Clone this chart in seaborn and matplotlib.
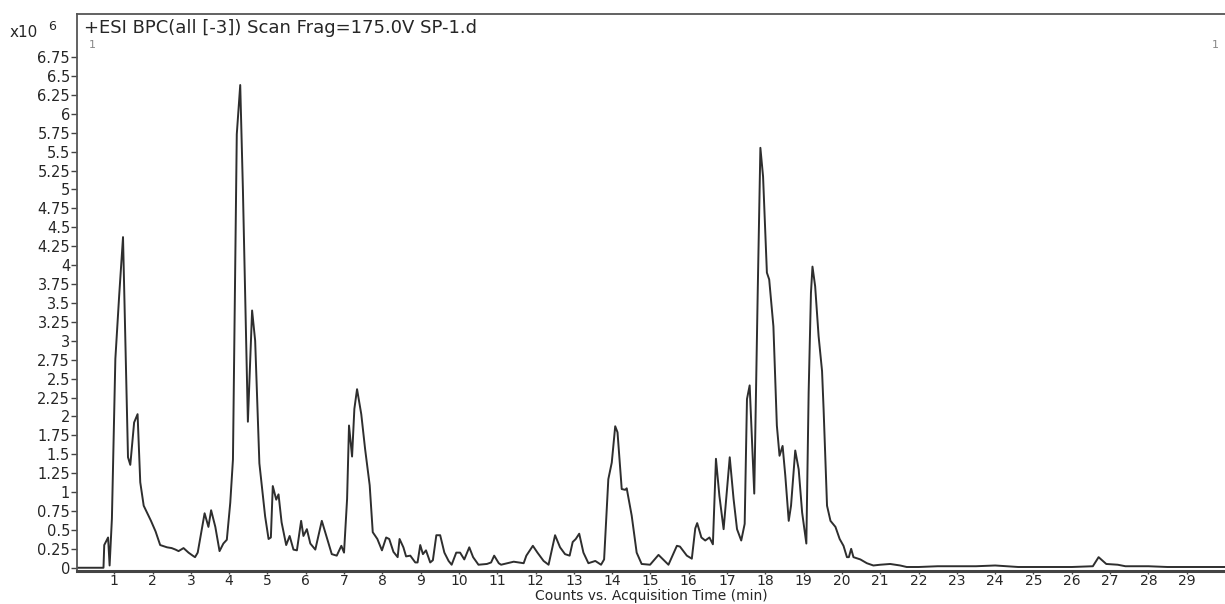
import numpy as np
import pandas as pd
import seaborn as sns
import matplotlib.pyplot as plt

# BPC trace, acquisition time (min) vs counts (x10^6)
time_min = [0.0, 0.72, 0.74, 0.80, 0.84, 0.88, 0.94, 1.03, 1.13, 1.23, 1.36, 1.42, 1.52, 1.61,
            1.68, 1.77, 1.96, 2.08, 2.2, 2.38, 2.5, 2.6, 2.68, 2.81, 2.94, 3.05, 3.11, 3.18,
            3.25, 3.36, 3.46, 3.53, 3.64, 3.75, 3.85, 3.94, 4.03, 4.10, 4.2, 4.29, 4.36, 4.49,
            4.6, 4.68, 4.79, 4.94, 5.03, 5.09, 5.14, 5.23, 5.29, 5.37, 5.49, 5.58, 5.68, 5.77,
            5.88, 5.94, 6.03, 6.12, 6.25, 6.42, 6.55, 6.68, 6.81, 6.93, 7.0, 7.08, 7.13, 7.21,
            7.27, 7.34, 7.45, 7.55, 7.67, 7.75, 7.87, 7.99, 8.1, 8.18, 8.29, 8.4, 8.45, 8.55,
            8.62, 8.73, 8.86, 8.92, 8.99, 9.06, 9.14, 9.25, 9.32, 9.41, 9.51, 9.62, 9.73, 9.81,
            9.93, 10.03, 10.14, 10.27, 10.37, 10.51, 10.73, 10.84, 10.92, 11.04, 11.1, 11.43,
            11.69, 11.76, 11.93, 12.05, 12.21, 12.34, 12.51, 12.64, 12.77, 12.89, 12.97, 13.05,
            13.14, 13.25, 13.38, 13.56, 13.71, 13.79, 13.9, 13.99, 14.08, 14.14, 14.25, 14.34,
            14.38, 14.51, 14.64, 14.77, 14.99, 15.21, 15.47, 15.69, 15.77, 15.95, 16.08, 16.17,
            16.22, 16.33, 16.43, 16.54, 16.63, 16.71, 16.8, 16.91, 17.07, 17.17, 17.26, 17.37,
            17.46, 17.52, 17.59, 17.71, 17.8, 17.87, 17.94, 18.04, 18.10, 18.21, 18.30, 18.37,
            18.45, 18.52, 18.61, 18.67, 18.78, 18.87, 18.96, 19.07, 19.13, 19.19, 19.23, 19.30,
            19.39, 19.48, 19.52, 19.61, 19.70, 19.83, 19.94, 20.04, 20.13, 20.18, 20.24, 20.3,
            20.48, 20.65, 20.82, 21.0, 21.26, 21.52, 21.69, 22.0, 22.5, 23.0, 23.5, 24.0, 24.3,
            24.6, 25.0, 26.0, 26.55, 26.7, 26.9, 27.2, 27.4, 28.0, 28.5, 29.0, 30.0]
counts_e6 = [0, 0, 0.3, 0.36, 0.4, 0.03, 0.65, 2.76, 3.6, 4.37, 1.46, 1.36, 1.92, 2.03,
             1.13, 0.82, 0.62, 0.48, 0.3, 0.27, 0.26, 0.24, 0.22, 0.26, 0.2, 0.16, 0.14, 0.2,
             0.4, 0.72, 0.54, 0.76, 0.54, 0.22, 0.32, 0.37, 0.86, 1.43, 5.73, 6.38, 5.0, 1.93,
             3.4, 3.0, 1.38, 0.68, 0.38, 0.4, 1.08, 0.9, 0.97, 0.6, 0.3, 0.42, 0.24, 0.23,
             0.62, 0.42, 0.51, 0.32, 0.24, 0.62, 0.4, 0.18, 0.16, 0.29, 0.2, 0.91, 1.88, 1.47,
             2.1, 2.36, 2.03, 1.57, 1.09, 0.47, 0.38, 0.23, 0.4, 0.38, 0.21, 0.14, 0.38, 0.27,
             0.15, 0.16, 0.07, 0.07, 0.3, 0.18, 0.23, 0.07, 0.1, 0.43, 0.43, 0.2, 0.09, 0.04,
             0.2, 0.2, 0.11, 0.27, 0.14, 0.04, 0.05, 0.07, 0.16, 0.06, 0.04, 0.08,
             0.06, 0.16, 0.29, 0.2, 0.09, 0.04, 0.43, 0.27, 0.18, 0.16, 0.34, 0.38,
             0.45, 0.2, 0.06, 0.09, 0.04, 0.11, 1.17, 1.39, 1.87, 1.79, 1.04, 1.03,
             1.05, 0.69, 0.2, 0.05, 0.04, 0.17, 0.04, 0.29, 0.28, 0.16, 0.12, 0.52,
             0.59, 0.4, 0.36, 0.4, 0.31, 1.44, 0.95, 0.51, 1.46, 0.91, 0.51, 0.36,
             0.58, 2.23, 2.41, 0.98, 3.63, 5.55, 5.17, 3.9, 3.81, 3.19, 1.88, 1.48,
             1.61, 1.22, 0.62, 0.82, 1.55, 1.3, 0.73, 0.32, 2.32, 3.63, 3.98, 3.72,
             3.06, 2.6, 2.1, 0.82, 0.62, 0.54, 0.38, 0.29, 0.14, 0.14, 0.25, 0.14,
             0.11, 0.06, 0.03, 0.04, 0.05, 0.03, 0.01, 0.01, 0.02, 0.02, 0.02, 0.03, 0.02,
             0.01, 0.01, 0.01, 0.02, 0.14, 0.05, 0.04, 0.02, 0.02, 0.01, 0.01, 0.01]

x_ticks = list(range(1, 30))
y_ticks = [i * 0.25 for i in range(28)]  # 0 .. 6.75
title = "+ESI BPC(all [-3]) Scan Frag=175.0V SP-1.d"
xlabel = "Counts vs. Acquisition Time (min)"

sns.set_style("ticks")
plt.rcParams['font.family'] = ['DejaVu Sans']

df = pd.DataFrame({'time': time_min, 'counts': counts_e6})

fig = plt.figure(figsize=(12.25, 6.04), dpi=100)
ax = fig.add_axes([0.0629, 0.055, 0.9371, 0.922])
sns.lineplot(data=df, x='time', y='counts', ax=ax, color='#2e2e2e', lw=1.4, sort=False)

ax.set_xlim(0.03, 30.0)
ax.set_ylim(-0.04, 7.32)
ax.set_xticks(x_ticks)
ax.set_xticklabels([str(t) for t in x_ticks])
ax.set_yticks(y_ticks)
ax.set_yticklabels(['{:g}'.format(v) for v in y_ticks])
ax.tick_params(axis='y', labelsize=10.5, length=4, width=1, color='#444444', pad=1)
ax.tick_params(axis='x', labelsize=10, length=2.5, width=1, color='#444444', pad=0)
ax.set_xlabel(xlabel, fontsize=10)
ax.xaxis.set_label_coords(0.5, -0.0575)
ax.xaxis.label.set_va('bottom')
ax.set_ylabel('')

for s in ['top', 'left']:
    ax.spines[s].set_color('#555555')
    ax.spines[s].set_linewidth(1.3)
ax.spines['bottom'].set_color('#444444')
ax.spines['bottom'].set_linewidth(2.2)
ax.spines['right'].set_visible(False)

ax.text(0.006, 0.99, title, transform=ax.transAxes, fontsize=13, va='top', ha='left')
ax.text(0.01, 0.945, '1', transform=ax.transAxes, fontsize=8, color='#888888', va='center')
ax.text(0.995, 0.945, '1', transform=ax.transAxes, fontsize=8, color='#888888', va='center', ha='right')
fig.text(0.008, 0.947, 'x10', fontsize=11, va='center')
fig.text(0.039, 0.956, '6', fontsize=9, va='center')

fig.savefig('out.png', dpi=100)
